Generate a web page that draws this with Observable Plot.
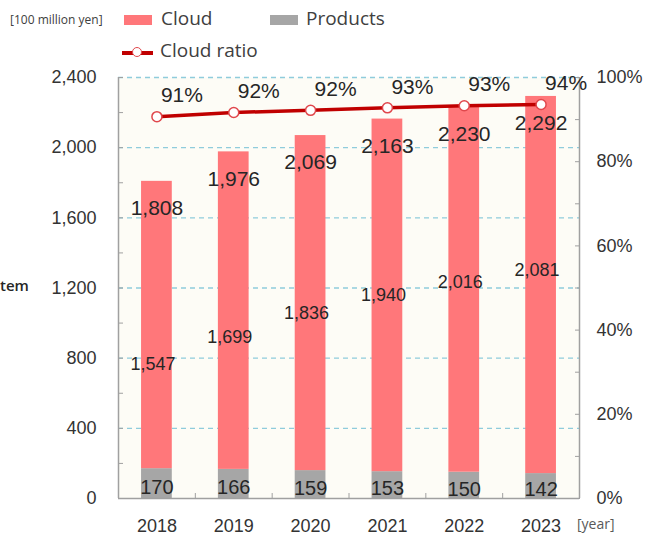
<!DOCTYPE html>
<html><head><meta charset="utf-8">
<script src="https://cdn.jsdelivr.net/npm/d3@7"></script>
<script src="https://cdn.jsdelivr.net/npm/@observablehq/plot@0.6"></script>
<style>
body{margin:0;background:#fff;}
#wrap{position:relative;width:653px;height:535px;}
#wrap svg{position:absolute;left:0;top:0;}
.lg{position:absolute;font-family:"Open Sans",sans-serif;color:#404040;white-space:nowrap;line-height:1;}
.sw{position:absolute;}
</style></head><body><div id="wrap"></div>
<script>
const years = [2018, 2019, 2020, 2021, 2022, 2023];
const totals = [1808, 1976, 2069, 2163, 2230, 2292];
const cloud = [1547, 1699, 1836, 1940, 2016, 2081];
const products = [170, 166, 159, 153, 150, 142];
const ratios = [0.907, 0.917, 0.922, 0.928, 0.933, 0.936];
const leftTicks = [0, 400, 800, 1200, 1600, 2000, 2400];
const rightTicks = [0, 0.2, 0.4, 0.6, 0.8, 1.0];
const legendItems = ["Cloud", "Products", "Cloud ratio"];
const unitLabel = "[100 million yen]";
const xUnit = "[year]";
const sideLabel = "tem";

const data = years.map((year, i) => ({year, total: totals[i], cloud: cloud[i], products: products[i], ratio: ratios[i]}));
const fmt = d3.format(",");
const yMax = leftTicks[leftTicks.length - 1];
const cloudColor = "#FF777A", prodColor = "#A6A6A6", lineColor = "#C00000", axisColor = "#A0A0A0";
const txt = "#262626", tickTxt = "#333333";
const x0 = years[0] - 0.5, x1 = years[years.length - 1] + 0.5;

const plot = Plot.plot({
  width: 653, height: 535,
  marginTop: 77, marginBottom: 37, marginLeft: 118, marginRight: 74,
  style: {fontFamily: "'Liberation Sans', Arial, sans-serif", background: "transparent", color: "#404040", overflow: "visible"},
  x: {domain: [x0, x1], axis: null},
  y: {domain: [0, yMax], axis: null},
  marks: [
    Plot.frame({fill: "#FDFCF6", stroke: null}),
    Plot.gridY(leftTicks.slice(1), {stroke: "#8FCCDC", strokeOpacity: 1, strokeDasharray: "5,4", strokeWidth: 1.4}),
    Plot.rectY(data, {x1: d => d.year - 0.2, x2: d => d.year + 0.2, y1: 0, y2: "products", fill: prodColor}),
    Plot.rectY(data, {x1: d => d.year - 0.2, x2: d => d.year + 0.2, y1: "products", y2: "total", fill: cloudColor}),
    Plot.ruleY([0], {stroke: axisColor, strokeWidth: 1.5}),
    Plot.ruleX([x0, x1], {stroke: axisColor, strokeWidth: 1.5}),
    // minor ticks
    Plot.axisY(d3.range(0, yMax + 1, 200), {anchor: "left", label: null, tickSize: -5, tickFormat: () => "", stroke: axisColor}),
    Plot.axisY(d3.range(0, yMax + 1, yMax / 10), {anchor: "right", label: null, tickSize: -5, tickFormat: () => "", stroke: axisColor}),
    Plot.axisX(years.slice(1).map(y => y - 0.5), {label: null, tickSize: -5, tickFormat: () => "", stroke: axisColor}),
    // axis labels
    Plot.axisY(leftTicks, {anchor: "left", label: null, tickSize: 0, tickPadding: 22, tickFormat: fmt, fontSize: 18, fill: tickTxt}),
    Plot.axisY(rightTicks.map(r => r * yMax), {anchor: "right", label: null, tickSize: 0, tickPadding: 17, tickFormat: d => Math.round(d / yMax * 100) + "%", fontSize: 18, fill: tickTxt}),
    Plot.axisX(years, {label: null, tickSize: 0, tickPadding: 21, tickFormat: d => String(d), fontSize: 18, fill: tickTxt}),
    // labels
    Plot.text(data, {x: "year", y: d => d.products / 2, text: d => fmt(d.products), dy: 4, fontSize: 20, fill: txt}),
    Plot.text(data, {x: "year", y: "cloud", text: d => fmt(d.cloud), dy: 137, dx: -4, fontSize: 18, fill: txt}),
    Plot.text(data, {x: "year", y: "total", text: d => fmt(d.total), dy: 27, fontSize: 21, fill: txt}),
    // ratio line
    Plot.line(data, {x: "year", y: d => d.ratio * yMax, stroke: lineColor, strokeWidth: 3.5}),
    Plot.dot(data, {x: "year", y: d => d.ratio * yMax, r: 5, fill: "white", stroke: "#E0474C", strokeWidth: 1.5}),
    Plot.text(data, {x: "year", y: d => d.ratio * yMax, text: d => Math.round(d.ratio * 100) + "%", dx: 25, dy: -21, fontSize: 21, fill: txt})
  ]
});

const wrap = document.getElementById("wrap");
wrap.appendChild(plot);

function addText(t, left, top, size, color, extra) {
  const d = document.createElement("div");
  d.className = "lg"; d.textContent = t;
  d.style.left = left + "px"; d.style.top = top + "px"; d.style.fontSize = size + "px";
  if (color) d.style.color = color;
  if (extra) Object.assign(d.style, extra);
  wrap.appendChild(d);
}
function addSwatch(left, top, w, h, color) {
  const d = document.createElement("div");
  d.className = "sw";
  Object.assign(d.style, {left: left + "px", top: top + "px", width: w + "px", height: h + "px", background: color});
  wrap.appendChild(d);
}
addText(unitLabel, 10, 14, 12, "#404040");
addSwatch(124, 15, 28, 10, cloudColor);
addText(legendItems[0], 161, 9, 19, "#404040");
addSwatch(270, 15, 28, 10, prodColor);
addText(legendItems[1], 306, 9, 19, "#404040");
addSwatch(122, 51, 31, 3.5, lineColor);
const c = document.createElement("div");
Object.assign(c.style, {position: "absolute", left: "132px", top: "47px", width: "8px", height: "8px", borderRadius: "50%", background: "white", border: "1.5px solid #E0474C"});
wrap.appendChild(c);
addText(legendItems[2], 160, 41, 19, "#404040");
addText(xUnit, 577, 517, 14, "#595959");
addText(sideLabel, 0, 278, 15, "#262626", {fontWeight: "600"});
</script>
</body></html>
